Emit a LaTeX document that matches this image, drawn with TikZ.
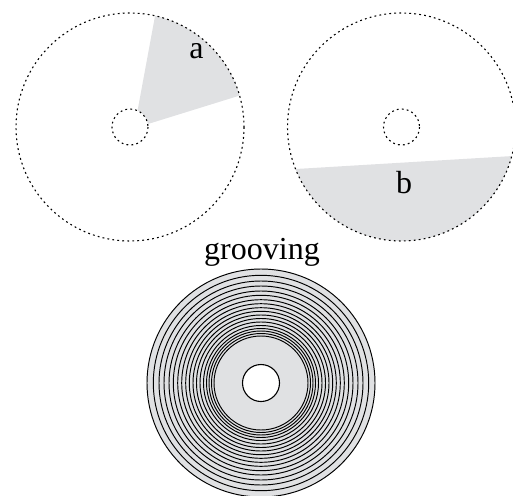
\documentclass[tikz,border=0pt]{standalone}
\usepackage{fontspec}
\setmainfont{Liberation Serif}
\definecolor{discgray}{RGB}{224,225,227}
\tikzset{
  x=1pt,y=-1pt,
  outline/.style={draw=black,line width=1.1pt,dash pattern=on 1.8pt off 3.2pt},
  fillzone/.style={fill=discgray,draw=none},
  lab/.style={font=\fontsize{32}{32}\selectfont,inner sep=0pt},
  groove/.style={draw=black,line width=0.95pt}
}
\begin{document}
\begin{tikzpicture}
\useasboundingbox (0,0) rectangle (513,495);
% disc a
\coordinate (ca) at (130,127);
\fill[fillzone] (ca) ++(-77.3:114) arc[start angle=-77.3,end angle=-16,radius=114] -- (148,124) arc[start angle=-9.5,end angle=-66,radius=18] -- cycle;
\draw[outline] (ca) circle[radius=114];
\draw[outline] (ca) circle[radius=18];
\node[lab] (a) at (196.5,51) {a};
% disc b
\coordinate (cb) at (401.5,127);
\begin{scope}
\clip (cb) circle[radius=114];
\fill[fillzone] (296,169) -- (513,156) -- (513,245) -- (290,245) -- cycle;
\end{scope}
\draw[outline] (cb) circle[radius=114];
\draw[outline] (cb) circle[radius=18];
\node[lab] (b) at (404,182.5) {b};
% label
\node[lab] (g) at (262,252) {grooving};
% grooved disc
\coordinate (cg) at (261,383);
\fill[discgray] (cg) circle[radius=114.5];
\foreach \r in {47,49.5,52,54.5,57.5,61,64.5,68,71.7,75.3,79.3,83.3,87.7,92,97,102,107.7,114}
  \draw[groove] (cg) circle[radius=\r];
\draw[fill=white,line width=1.1pt] (cg) circle[radius=18.5];
\end{tikzpicture}
\end{document}
